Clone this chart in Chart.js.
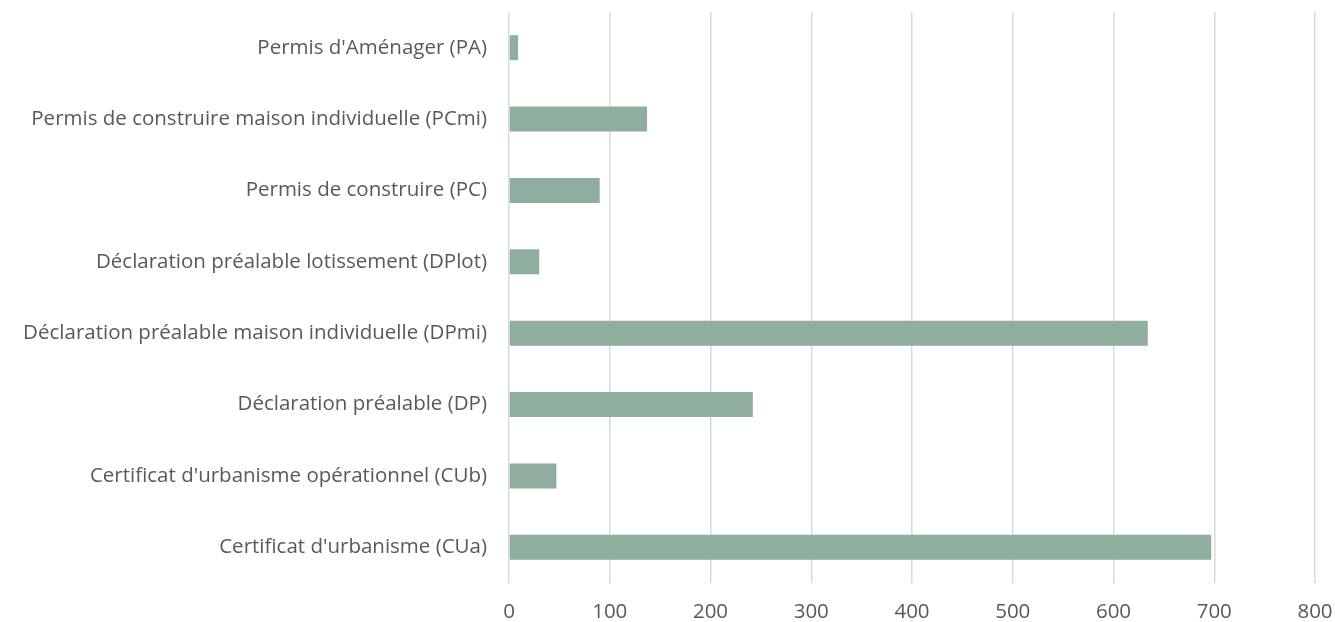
<!DOCTYPE html>
<html lang="fr">
<head>
    <meta charset="utf-8">
    <script src="https://cdn.jsdelivr.net/npm/chart.js@4/dist/chart.umd.min.js"></script>
    <style>
        html, body { margin: 0; padding: 0; background: #fff; }
        .chart-container { position: relative; width: 1335px; height: 622px; }
    </style>
</head>
<body>
<div class="chart-container">
    <canvas id="myChart"></canvas>
</div>
<script>
    // categories, top to bottom
    var categories = [
        "Permis d'Aménager (PA)",
        "Permis de construire maison individuelle (PCmi)",
        "Permis de construire (PC)",
        "Déclaration préalable lotissement (DPlot)",
        "Déclaration préalable maison individuelle (DPmi)",
        "Déclaration préalable (DP)",
        "Certificat d'urbanisme opérationnel (CUb)",
        "Certificat d'urbanisme (CUa)"
    ];
    var values = [9, 137, 90, 30, 634, 242, 47, 697];
    var xTicks = [0, 100, 200, 300, 400, 500, 600, 700, 800];

    var textColor = "#595959";
    var font = { family: "'Open Sans', sans-serif", size: 20.5 };
    var ctx = document.getElementById("myChart").getContext("2d");
    var myChart = new Chart(ctx, {
        type: 'bar',
        data: {
            labels: categories,
            datasets: [{
                data: values,
                backgroundColor: "#90ae9f",
                borderWidth: 0,
                barPercentage: 0.7,
                categoryPercentage: 0.5
            }]
        },
        options: {
            indexAxis: 'y',
            responsive: true,
            maintainAspectRatio: false,
            animation: false,
            layout: { padding: { top: 12, right: 20, left: 0, bottom: 0 } },
            plugins: {
                legend: { display: false },
                tooltip: { enabled: false }
            },
            scales: {
                x: {
                    min: 0,
                    max: 800,
                    afterBuildTicks: function (scale) {
                        scale.ticks = xTicks.map(function (v) { return { value: v }; });
                    },
                    afterFit: function (scale) {
                        scale.height = 39;
                        scale.paddingLeft = 0;
                        scale.paddingRight = 0;
                    },
                    grid: { color: "#d9d9d9", lineWidth: 1.5, drawTicks: false },
                    border: { display: false },
                    ticks: { color: textColor, padding: 17, font: font }
                },
                y: {
                    grid: { display: false, drawTicks: false },
                    border: { display: false },
                    afterFit: function (scale) {
                        scale.width = 509;
                        scale.paddingTop = 0;
                        scale.paddingBottom = 0;
                    },
                    ticks: { color: textColor, padding: 22, font: font }
                }
            }
        }
    });
</script>
</body>
</html>
